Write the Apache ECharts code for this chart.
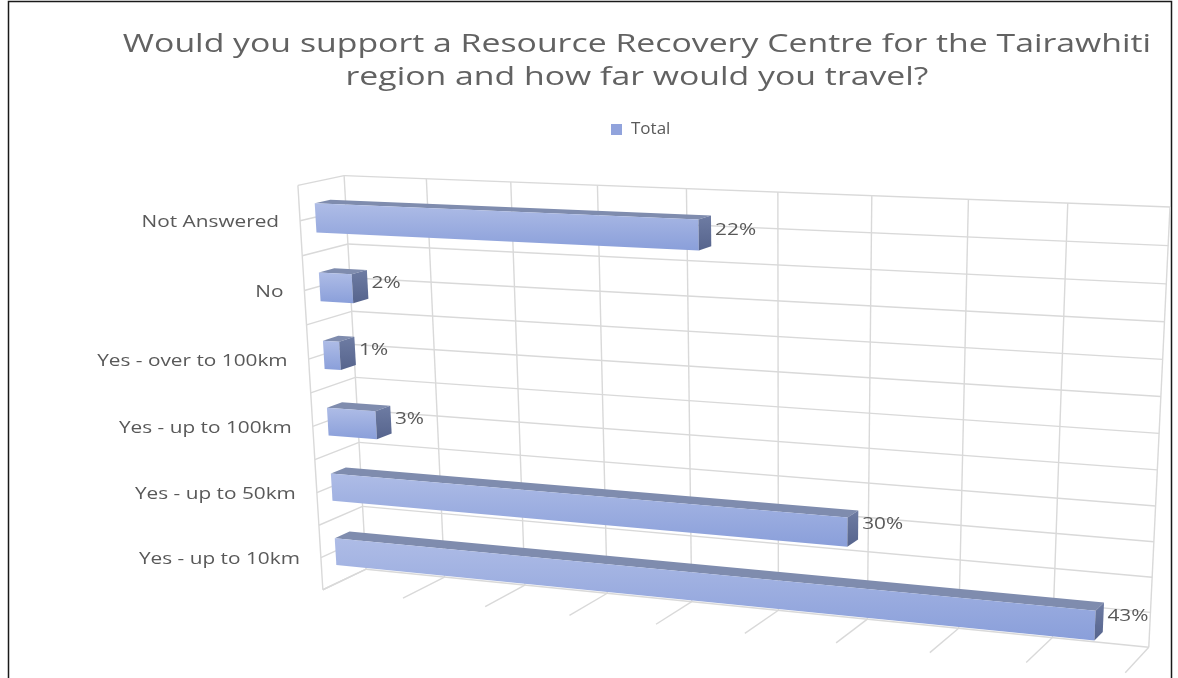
<!DOCTYPE html>
<html>
<head>
<meta charset="utf-8">
<script src="https://cdn.jsdelivr.net/npm/echarts@6/dist/echarts.min.js"></script>
<style>
  html, body { margin: 0; padding: 0; background: #ffffff; }
  #chart { width: 1178px; height: 678px; }
</style>
</head>
<body>
<div id="chart"></div>
<script>
// ---- data ----
const titleLines = [
  'Would you support a Resource Recovery Centre for the Tairawhiti',
  'region and how far would you travel?'
];
const seriesName = 'Total';
const categories = ['Not Answered', 'No', 'Yes - over to 100km', 'Yes - up to 100km', 'Yes - up to 50km', 'Yes - up to 10km'];
const totals = [22, 2, 1, 3, 30, 43];
const valueTicks = [0, 5, 10, 15, 20, 25, 30, 35, 40, 45];

// ---- 3D frame ----
// World space: X = value, Y = category (downwards), Z = depth (0 front, 1 back).
const XMAX = valueTicks[valueTicks.length - 1];
const NCAT = categories.length;
// Where the corners of the wall/floor frame land on screen; a camera is fitted to them.
const frameCorners = [
  [[0, 0, 0], [298, 185]],
  [[0, 0, 1], [344, 176]],
  [[XMAX, 0, 1], [1170, 207]],
  [[XMAX, NCAT, 1], [1149, 647]],
  [[0, NCAT, 1], [366, 569]],
  [[0, NCAT, 0], [323, 590]],
  [[XMAX, NCAT, 0], [1125, 673]]
];
const BAR_TOP = 0.30, BAR_BOTTOM = 0.72;   // bar extent inside a category band
const BAR_FRONT = 0.33, BAR_BACK = 0.67;   // bar extent in depth

function solveLinear(M, b) {
  const n = b.length;
  const A = M.map((r, i) => r.concat([b[i]]));
  for (let c = 0; c < n; c++) {
    let p = c;
    for (let r = c + 1; r < n; r++) if (Math.abs(A[r][c]) > Math.abs(A[p][c])) p = r;
    const t = A[c]; A[c] = A[p]; A[p] = t;
    for (let r = 0; r < n; r++) {
      if (r === c) continue;
      const f = A[r][c] / A[c][c];
      for (let k = c; k <= n; k++) A[r][k] -= f * A[c][k];
    }
  }
  return A.map((r, i) => r[n] / r[i]);
}

// Direct linear transform: 3x4 projective camera with p34 = 1, least squares.
function fitCamera(pairs) {
  const rows = [], rhs = [];
  pairs.forEach(([[X, Y, Z], [u, v]]) => {
    const x = X / XMAX, y = Y / NCAT, z = Z;
    const U = (u - 640) / 500, V = (v - 400) / 500;
    rows.push([x, y, z, 1, 0, 0, 0, 0, -U * x, -U * y, -U * z]); rhs.push(U);
    rows.push([0, 0, 0, 0, x, y, z, 1, -V * x, -V * y, -V * z]); rhs.push(V);
  });
  const n = 11;
  const N = [], nb = [];
  for (let i = 0; i < n; i++) {
    N.push(new Array(n).fill(0)); nb.push(0);
  }
  rows.forEach((r, k) => {
    for (let i = 0; i < n; i++) {
      nb[i] += r[i] * rhs[k];
      for (let j = 0; j < n; j++) N[i][j] += r[i] * r[j];
    }
  });
  return solveLinear(N, nb);
}
const cam = fitCamera(frameCorners);

function project(X, Y, Z) {
  const x = X / XMAX, y = Y / NCAT, z = Z;
  const w = cam[8] * x + cam[9] * y + cam[10] * z + 1;
  const U = (cam[0] * x + cam[1] * y + cam[2] * z + cam[3]) / w;
  const V = (cam[4] * x + cam[5] * y + cam[6] * z + cam[7]) / w;
  return [U * 500 + 640, V * 500 + 400];
}

// hidden cartesian grid -> world units
function toValue(px, cs) { return (px - cs.x) / cs.width * XMAX; }
function toCategory(py, cs, band) { return (py - cs.y) / band; }

const TEXT_COLOR = '#595959';
const TITLE_COLOR = '#626262';
const GRID_COLOR = '#d9d9d9';
const FONT = 'Open Sans';

function line(a, b) {
  return {
    type: 'line',
    shape: { x1: a[0], y1: a[1], x2: b[0], y2: b[1] },
    style: { stroke: GRID_COLOR, lineWidth: 1.4 },
    silent: true
  };
}

function renderFrame(params, api) {
  const cs = params.coordSys;
  const band = api.size([0, 1])[1];
  const children = [];
  // value gridlines: back wall + floor
  valueTicks.forEach(t => {
    const X = toValue(api.coord([t, 0])[0], cs);
    children.push(line(project(X, 0, 1), project(X, NCAT, 1)));
    children.push(line(project(X, NCAT, 0), project(X, NCAT, 1)));
  });
  // category gridlines (band edges and centres): back wall + left wall
  for (let i = 0; i < NCAT; i++) {
    const yc = toCategory(api.coord([0, i])[1], cs, band);
    const levels = [yc - 0.5, yc];
    if (i === NCAT - 1) levels.push(yc + 0.5);
    levels.forEach(c => {
      children.push(line(project(0, c, 1), project(XMAX, c, 1)));
      children.push(line(project(0, c, 0), project(0, c, 1)));
    });
  }
  // front edge of the left wall
  children.push(line(project(0, 0, 0), project(0, NCAT, 0)));
  // category labels
  for (let i = 0; i < NCAT; i++) {
    const yc = toCategory(api.coord([0, i])[1], cs, band);
    const p = project(0, yc, 0);
    children.push({
      type: 'text',
      x: p[0] - 21,
      y: p[1] + 2,
      scaleX: 1.3,
      style: {
        text: categories[i],
        fill: TEXT_COLOR,
        fontSize: 16,
        fontFamily: FONT,
        align: 'right',
        verticalAlign: 'middle'
      },
      silent: true
    });
  }
  return { type: 'group', children: children };
}

function renderBar(params, api) {
  const cs = params.coordSys;
  const v = api.value(0), idx = api.value(1);
  const band = api.size([0, 1])[1];
  const p0 = api.coord([0, idx]);
  const p1 = api.coord([v, idx]);
  const x0 = toValue(p0[0], cs), x1 = toValue(p1[0], cs);
  const yc = toCategory(p0[1], cs, band);
  const c0 = yc - 0.5 + BAR_TOP, c1 = yc - 0.5 + BAR_BOTTOM;
  const zf = BAR_FRONT, zb = BAR_BACK;

  const front = [project(x0, c0, zf), project(x1, c0, zf), project(x1, c1, zf), project(x0, c1, zf)];
  const top = [project(x0, c0, zf), project(x1, c0, zf), project(x1, c0, zb), project(x0, c0, zb)];
  const side = [project(x1, c0, zf), project(x1, c0, zb), project(x1, c1, zb), project(x1, c1, zf)];
  // value label sits beside the back of the bar end, at mid-band height
  const lab = project(x1, yc, zb);

  return {
    type: 'group',
    children: [
      {
        type: 'polygon', shape: { points: top },
        style: { fill: '#7f8cae' }
      },
      {
        type: 'polygon', shape: { points: front },
        style: {
          fill: {
            type: 'linear', x: 0, y: 0, x2: 0, y2: 1,
            colorStops: [{ offset: 0, color: '#aebce6' }, { offset: 1, color: '#8a9fda' }]
          }
        }
      },
      {
        type: 'polygon', shape: { points: side },
        style: {
          fill: {
            type: 'linear', x: 0, y: 0, x2: 0, y2: 1,
            colorStops: [{ offset: 0, color: '#6e7ca3' }, { offset: 1, color: '#56648d' }]
          }
        }
      },
      {
        type: 'text',
        x: lab[0] + 4,
        y: lab[1],
        scaleX: 1.3,
        style: {
          text: v + '%',
          fill: TEXT_COLOR,
          fontSize: 16,
          fontFamily: FONT,
          align: 'left',
          verticalAlign: 'middle'
        }
      }
    ]
  };
}

const chart = echarts.init(document.getElementById('chart'), null, { renderer: 'canvas' });

chart.setOption({
  animation: false,
  backgroundColor: '#ffffff',
  legend: {
    data: [{ name: seriesName, icon: 'rect' }],
    left: 606,
    top: 116,
    itemWidth: 11,
    itemHeight: 11,
    itemGap: 8,
    textStyle: { color: TEXT_COLOR, fontSize: 17, fontFamily: FONT, padding: [0, 0, 0, 4] },
    selectedMode: false
  },
  grid: { left: 300, right: 60, top: 180, bottom: 40 },
  xAxis: {
    type: 'value', min: 0, max: XMAX, interval: 5, show: false
  },
  yAxis: {
    type: 'category', data: categories, inverse: true, show: false
  },
  graphic: [
    {
      type: 'rect',
      shape: { x: 8.5, y: 1.5, width: 1163, height: 720 },
      style: { fill: 'none', stroke: '#1a1a1a', lineWidth: 1.5 },
      silent: true
    },
    {
      type: 'text', x: 637, y: 45, scaleX: 1.3,
      style: { text: titleLines[0], fill: TITLE_COLOR, fontSize: 26, fontFamily: FONT, align: 'center', verticalAlign: 'middle' },
      silent: true
    },
    {
      type: 'text', x: 637, y: 78, scaleX: 1.3,
      style: { text: titleLines[1], fill: TITLE_COLOR, fontSize: 26, fontFamily: FONT, align: 'center', verticalAlign: 'middle' },
      silent: true
    }
  ],
  series: [
    {
      type: 'custom',
      name: 'frame',
      renderItem: renderFrame,
      data: [[0, 0]],
      encode: { x: 0, y: 1 },
      silent: true,
      z: 1
    },
    {
      type: 'custom',
      name: seriesName,
      renderItem: renderBar,
      data: totals.map((v, i) => [v, i]),
      encode: { x: 0, y: 1 },
      itemStyle: { color: '#91a3dc' },
      z: 2
    }
  ]
});
</script>
</body>
</html>
